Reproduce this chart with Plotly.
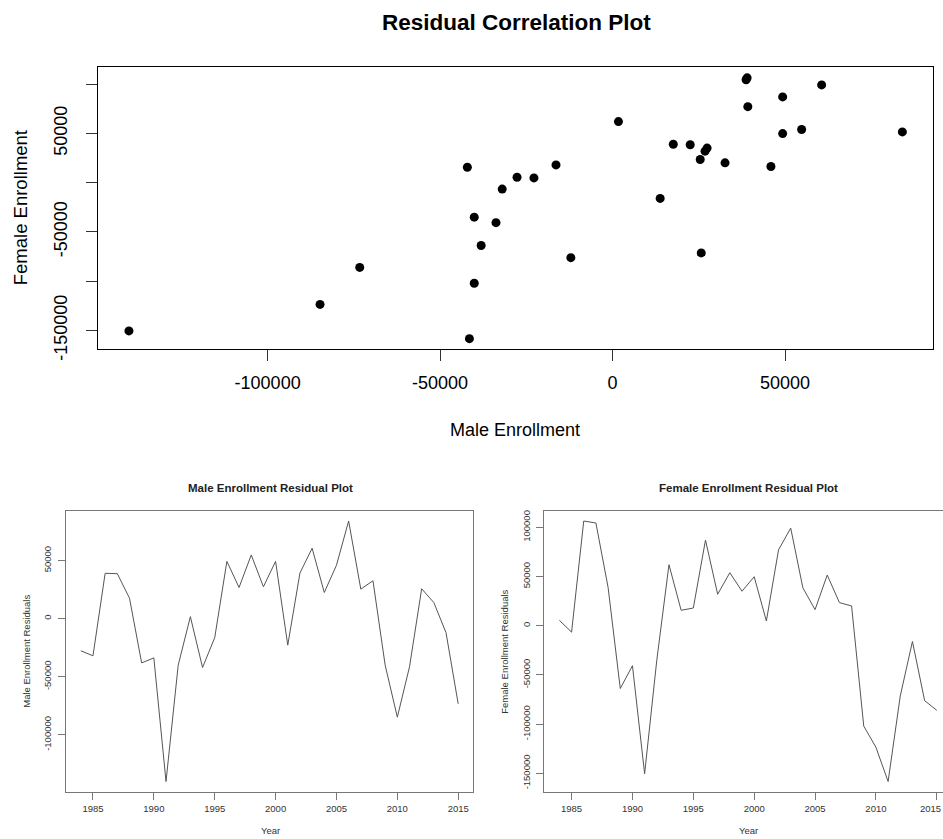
import plotly.graph_objects as go

# ---- data ----
years = list(range(1984, 2016))
male_resid = [-27700, -32000, 39000, 38700, 17600, -38100, -33800, -140200,
              -40100, 1700, -42100, -16400, 49300, 26800, 54800, 27400,
              49300, -22800, 39200, 60600, 22500, 45900, 84000, 25400,
              32600, -40100, -84800, -41500, 25700, 13800, -12100, -73300]
female_resid = [5500, -6500, 106400, 104400, 39000, -63800, -40600, -150400,
                -35000, 62000, 15700, 18000, 87000, 32000, 53900, 35100,
                49800, 4800, 77100, 99200, 38500, 16400, 51500, 23500,
                20100, -102000, -123500, -158300, -71300, -16000, -76100, -86000]

scatter_xticks = [-100000, -50000, 0, 50000]
scatter_yticks = [-150000, -100000, -50000, 0, 50000, 100000]
scatter_ylabels = ["-150000", "", "-50000", "", "50000", ""]
year_ticks = [1985, 1990, 1995, 2000, 2005, 2010, 2015]
male_yticks = [-100000, -50000, 0, 50000]
female_yticks = [-150000, -100000, -50000, 0, 50000, 100000]

W, H0 = 943, 839
H = 853  # page is captured slightly taller than the window; compensate


def dx(a, b):
    return [a / W, min(b / W, 1.0)]


def dy(top, bottom):
    return [1 - bottom / H0, 1 - top / H0]


def rpad(vals, f=0.04):
    lo, hi = min(vals), max(vals)
    p = (hi - lo) * f
    return [lo - p, hi + p]


fig = go.Figure()

fig.add_trace(go.Scatter(x=male_resid, y=female_resid, mode="markers",
                         marker=dict(color="black", size=9),
                         xaxis="x", yaxis="y", showlegend=False))
fig.add_trace(go.Scatter(x=years, y=male_resid, mode="lines",
                         line=dict(color="#555555", width=1),
                         xaxis="x2", yaxis="y2", showlegend=False))
fig.add_trace(go.Scatter(x=years, y=female_resid, mode="lines",
                         line=dict(color="#555555", width=1),
                         xaxis="x3", yaxis="y3", showlegend=False))

FAM = "Arial, Liberation Sans, sans-serif"
big = dict(family=FAM, size=18, color="black")
small = dict(family=FAM, size=9.5, color="#333333")

yr_range = rpad(years)
m_left, m_right = 65.7, 473.3
px_per_year = (m_right - m_left) / (yr_range[1] - yr_range[0])
f_left = 544.3
f_range = [yr_range[0], yr_range[0] + (W - f_left) / px_per_year]

common_big = dict(showgrid=False, zeroline=False, showline=True, linecolor="black",
                  linewidth=1, ticks="outside", ticklen=11, tickcolor="#333333",
                  tickfont=big, ticklabelstandoff=6)
common_small = dict(showgrid=False, zeroline=False, showline=True, linecolor="#777777",
                    linewidth=1, ticks="outside", ticklen=7, tickcolor="#777777",
                    tickfont=small, ticklabelstandoff=1)

fig.update_layout(
    width=W, height=H,
    margin=dict(l=0, r=0, t=0, b=0),
    paper_bgcolor="white", plot_bgcolor="white",
    xaxis=dict(domain=dx(98, 933.3), range=rpad(male_resid), anchor="y",
               tickvals=scatter_xticks, ticktext=[str(v) for v in scatter_xticks],
               mirror=True, **common_big),
    yaxis=dict(domain=dy(66.3, 347.7), range=rpad(female_resid), anchor="x",
               tickvals=scatter_yticks, ticktext=scatter_ylabels, tickangle=-90,
               mirror=True, **{**common_big, "ticklabelstandoff": 12}),
    xaxis2=dict(domain=dx(m_left, m_right), range=yr_range, anchor="y2",
                tickvals=year_ticks, ticktext=[str(v) for v in year_ticks],
                mirror=True, **common_small),
    yaxis2=dict(domain=dy(509, 790), range=rpad(male_resid), anchor="x2",
                tickvals=male_yticks, ticktext=[str(v) for v in male_yticks],
                tickangle=-90, mirror=True, **{**common_small, "ticklabelstandoff": 3}),
    xaxis3=dict(domain=dx(f_left, W), range=f_range, anchor="y3",
                tickvals=year_ticks, ticktext=[str(v) for v in year_ticks],
                mirror=True, **common_small),
    yaxis3=dict(domain=dy(509, 790), range=rpad(female_resid), anchor="x3",
                tickvals=female_yticks, ticktext=[str(v) for v in female_yticks],
                tickangle=-90, mirror=False, **{**common_small, "ticklabelstandoff": 3}),
)


def ann(text, x, y, font, angle=0, xanchor="center"):
    fig.add_annotation(text=text, x=x / W, y=1 - y / H0, xref="paper", yref="paper",
                       showarrow=False, xanchor=xanchor, yanchor="middle",
                       textangle=angle, font=font)


ann("<b>Residual Correlation Plot</b>", 516, 21, dict(family=FAM, size=22.5, color="black"))
ann("Male Enrollment", 515, 428, big)
ann("Female Enrollment", 20, 207, dict(big, size=18.5), angle=-90)

title_small = dict(family=FAM, size=11.5, color="#222222")
ann("<b>Male Enrollment Residual Plot</b>", 270, 486, title_small)
ann("<b>Female Enrollment Residual Plot</b>", 748, 486, title_small)
ann("Year", 270, 829, small)
ann("Year", 748, 829, small)
ann("Male Enrollment Residuals", 27, 650, small, angle=-90)
ann("Female Enrollment Residuals", 505, 650, small, angle=-90)
# last female tick label sits on the window edge
ann(str(year_ticks[-1]), W, 807, small, xanchor="right")

fig.write_html("out.html")
